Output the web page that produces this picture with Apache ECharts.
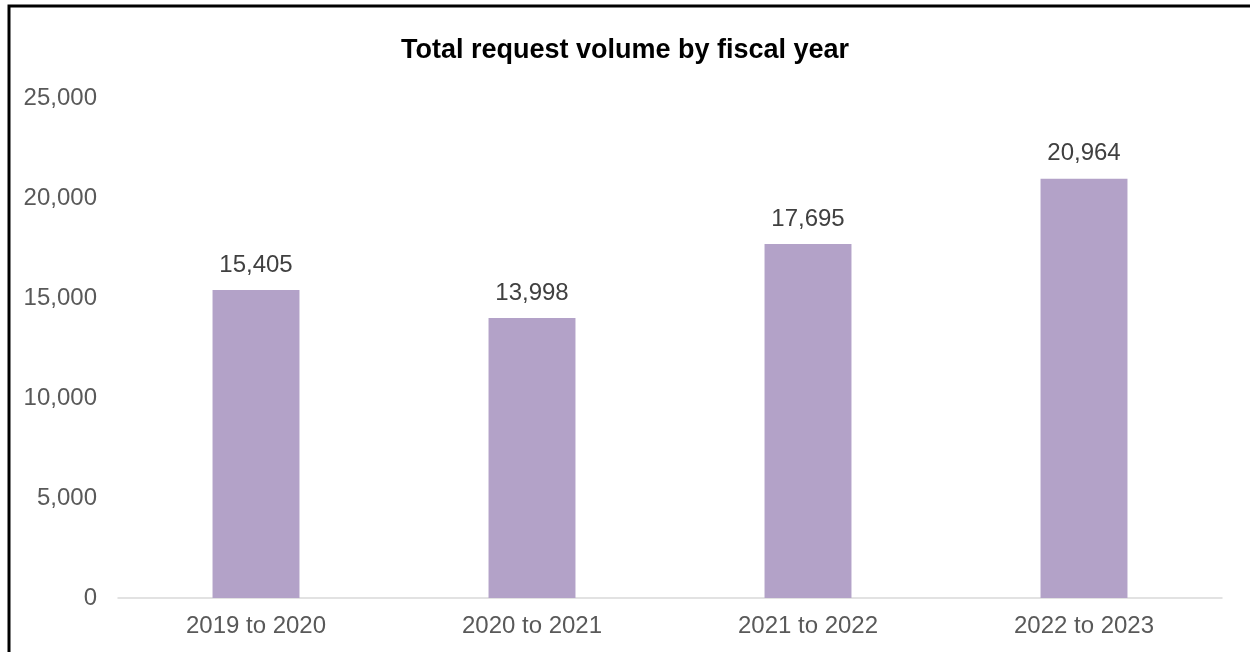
<!DOCTYPE html>
<html>
<head>
<meta charset="utf-8">
<script src="https://cdn.jsdelivr.net/npm/echarts@6/dist/echarts.min.js"></script>
<style>
  html, body { margin: 0; padding: 0; background: #fff; }
  #chart { width: 1250px; height: 652px; }
</style>
</head>
<body>
<div id="chart"></div>
<script>
const categories = ['2019 to 2020', '2020 to 2021', '2021 to 2022', '2022 to 2023'];
const requestVolume = [15405, 13998, 17695, 20964];
const yTicks = [0, 5000, 10000, 15000, 20000, 25000];

const fmt = v => v.toLocaleString('en-US');
const font = '"Liberation Sans", Arial, sans-serif';

const chart = echarts.init(document.getElementById('chart'), null, { renderer: 'canvas' });
chart.setOption({
  animation: false,
  backgroundColor: '#ffffff',
  title: {
    text: 'Total request volume by fiscal year',
    left: 'center',
    top: 32,
    textStyle: { fontFamily: font, fontSize: 27, fontWeight: 'bold', color: '#000000' }
  },
  graphic: [{
    type: 'rect',
    shape: { x: 9, y: 6, width: 1260, height: 680 },
    style: { fill: null, stroke: '#000000', lineWidth: 3 },
    silent: true
  }],
  grid: { left: 118, right: 28, top: 98, bottom: 54, containLabel: false },
  xAxis: {
    type: 'category',
    data: categories,
    axisLine: { show: true, lineStyle: { color: '#d9d9d9', width: 1.5 } },
    axisTick: { show: false },
    axisLabel: { fontFamily: font, fontSize: 24, color: '#595959', margin: 16 }
  },
  yAxis: {
    type: 'value',
    min: yTicks[0],
    max: yTicks[yTicks.length - 1],
    interval: yTicks[1] - yTicks[0],
    splitLine: { show: false },
    axisLine: { show: false },
    axisTick: { show: false },
    axisLabel: { fontFamily: font, fontSize: 24, color: '#595959', margin: 21, formatter: fmt }
  },
  series: [{
    type: 'bar',
    data: requestVolume,
    barWidth: '31.5%',
    itemStyle: { color: '#b3a2c8' },
    label: {
      show: true,
      position: 'top',
      distance: 13,
      fontFamily: font,
      fontSize: 24,
      color: '#404040',
      formatter: p => fmt(p.value)
    }
  }]
});
</script>
</body>
</html>
